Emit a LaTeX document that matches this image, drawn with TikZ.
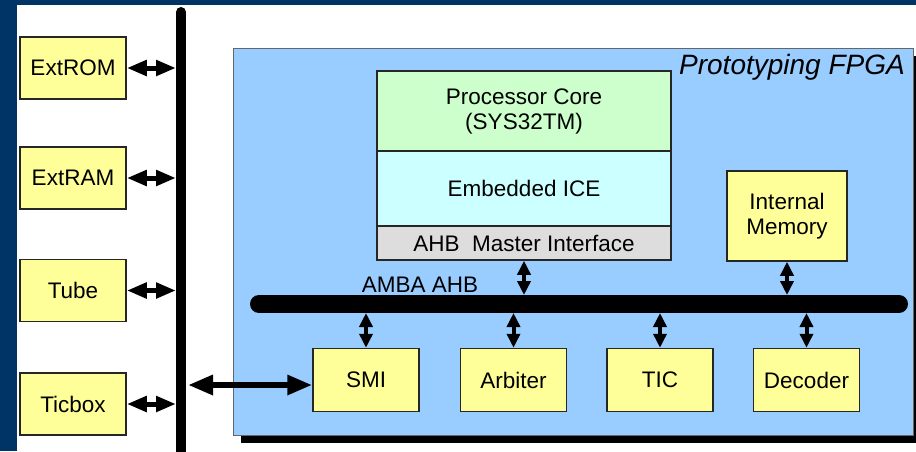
\documentclass[tikz,border=0pt]{standalone}
\usepackage{fontspec}
\setmainfont{Liberation Sans}
\usetikzlibrary{arrows.meta}
\definecolor{navy}{HTML}{003366}
\definecolor{fpgablue}{HTML}{99CCFF}
\definecolor{boxyellow}{HTML}{FFFF99}
\definecolor{coregreen}{HTML}{CCFFCC}
\definecolor{icecyan}{HTML}{CCFFFF}
\definecolor{ahbgray}{HTML}{DDDDDD}
\tikzset{
  blk/.style={draw=black!85, line width=1.5pt, fill=boxyellow, inner sep=0pt,
    minimum width=106pt, minimum height=62pt, align=center,
    font=\fontsize{22.5}{25}\selectfont},
  layer/.style={blk, minimum width=294pt},
  sarrow/.style={line width=5pt, {Triangle[length=20pt,width=15pt]}-{Triangle[length=20pt,width=15pt]}},
  varrow/.style={line width=4pt, {Triangle[length=14pt,width=13pt]}-{Triangle[length=14pt,width=13pt]}},
  barrow/.style={line width=6pt, {Triangle[length=25pt,width=19pt]}-{Triangle[length=25pt,width=19pt]}},
  busline/.style={line width=#1, line cap=round},
}
\begin{document}
\begin{tikzpicture}[x=1pt, y=-1pt]
  \useasboundingbox (0,0) rectangle (916,451);
  % frame
  \fill[navy] (0,0) rectangle (916,451);
  \fill[white] (17,5) rectangle (916,451);

  % external devices
  \node[blk] (extrom) at (73,68) {ExtROM};
  \node[blk] (extram) at (73,178) {ExtRAM};
  \node[blk] (tube)   at (73,290.5) {Tube};
  \node[blk] (ticbox) at (73,404) {Ticbox};

  % system bus
  \coordinate (vtop) at (181,12);
  \coordinate (vbot) at (181,470);
  \draw[busline=10pt] (vtop) -- (vbot);
  \coordinate (vleft) at (176,0);
  \foreach \n in {extrom,extram,tube,ticbox}
    \draw[sarrow] (\n.east) -- (\n.east -| vleft);

  % FPGA
  \fill[black] (241,56) rectangle (921,443);
  \node[draw=black!60, line width=1pt, fill=fpgablue, minimum width=680pt,
        minimum height=387pt, inner sep=0pt] (fpga) at (573,241.5) {};
  \node[anchor=base east, inner sep=0pt, font=\fontsize{28}{30}\selectfont\itshape]
    (title) at (905,74) {Prototyping FPGA};

  % processor stack
  \node[layer, fill=coregreen, minimum height=80pt] (core) at (524,111)
    {Processor Core\\(SYS32TM)};
  \node[layer, fill=icecyan, minimum height=75pt] (ice) at (524,188.5) {Embedded ICE};
  \node[layer, fill=ahbgray, minimum height=34pt] (ahb) at (524,243)
    {AHB\ \ Master Interface};

  \node[blk, minimum width=120pt, minimum height=90pt] (mem) at (787,216)
    {Internal\\Memory};

  % AMBA AHB bus
  \coordinate (hleft) at (259,304);
  \coordinate (hright) at (899,304);
  \draw[busline=18pt] (hleft) -- (hright);
  \node[anchor=base, inner sep=0pt, font=\fontsize{22.5}{25}\selectfont]
    (amba) at (420,292) {AMBA AHB};
  \coordinate (htop) at (0,295);
  \coordinate (hbot) at (0,313);

  % bus peripherals
  \node[blk, minimum height=63pt] (smi) at (366,380) {SMI};
  \node[blk, minimum height=63pt] (arb) at (513.5,380) {Arbiter};
  \node[blk, minimum height=63pt] (tic) at (660,380) {TIC};
  \node[blk, minimum height=63pt] (dec) at (806.5,380) {Decoder};

  \draw[varrow] (ahb.south) -- (ahb.south |- htop);
  \draw[varrow] (mem.south) -- (mem.south |- htop);
  \foreach \n in {smi,arb,tic,dec}
    \draw[varrow] (\n.north |- hbot) -- (\n.north);

  % link from system bus to SMI
  \coordinate (link) at (188,385);
  \draw[barrow] (link) -- (link -| smi.west);
\end{tikzpicture}
\end{document}
